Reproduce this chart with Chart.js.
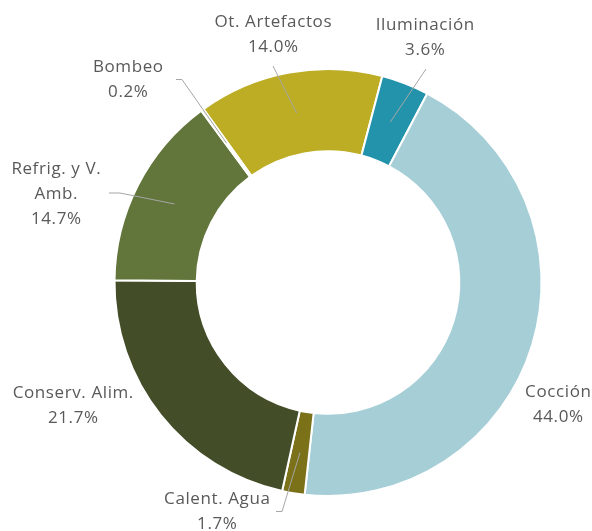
<!DOCTYPE html>
<html>
<head>
<meta charset="utf-8">
<script src="https://cdn.jsdelivr.net/npm/chart.js@4"></script>
<style>
  html, body { margin: 0; padding: 0; background: #fff; }
  #wrap { width: 592px; height: 531px; }
</style>
</head>
<body>
<div id="wrap"><canvas id="chart" width="592" height="531"></canvas></div>
<script>
// Categories and shares (%) in drawing order, clockwise
const categories = ["Ot. Artefactos", "Iluminación", "Cocción", "Calent. Agua", "Conserv. Alim.", "Refrig. y V. Amb.", "Bombeo"];
const shares = [14.0, 3.6, 44.0, 1.7, 21.7, 14.7, 0.2];

// Slice colours
const sliceColors = ["#bdad24", "#2393ab", "#a6ced7", "#7b7119", "#434e29", "#62753a", "#e4e2cc"];

// How each label breaks into lines
const labelLines = [
  ["Ot. Artefactos"], ["Iluminación"], ["Cocción"], ["Calent. Agua"],
  ["Conserv. Alim."], ["Refrig. y V.", "Amb."], ["Bombeo"]
];

// Label placement: centre x, first line y, leader start (null = no leader), elbow length
const labelPos = [
  { x: 273, y: 22, lead: [273, 66], elbow: 0 },
  { x: 425, y: 25, lead: [426, 69], elbow: 0 },
  { x: 558, y: 392, lead: null },
  { x: 217, y: 499, lead: [276, 511.5], elbow: 6 },
  { x: 73, y: 393, lead: null },
  { x: 56, y: 169, lead: [109, 193], elbow: 11 },
  { x: 128, y: 67, lead: [176, 79.5], elbow: 6 }
];

const labelPlugin = {
  id: "sliceLabels",
  afterDraw(chart) {
    const ctx = chart.ctx;
    const meta = chart.getDatasetMeta(0);
    ctx.save();
    meta.data.forEach((arc, i) => {
      const p = labelPos[i];
      const mid = (arc.startAngle + arc.endAngle) / 2;
      const r = (arc.innerRadius + arc.outerRadius) / 2;
      const ex = arc.x + Math.cos(mid) * r;
      const ey = arc.y + Math.sin(mid) * r;
      if (p.lead) {
        ctx.strokeStyle = "#a6a6a6";
        ctx.lineWidth = 1;
        ctx.beginPath();
        ctx.moveTo(p.lead[0], p.lead[1]);
        if (p.elbow) ctx.lineTo(p.lead[0] + p.elbow, p.lead[1]);
        ctx.lineTo(ex, ey);
        ctx.stroke();
      }
      ctx.fillStyle = "#595959";
      ctx.font = "17px 'Open Sans', Lato, sans-serif";
      ctx.letterSpacing = "0.6px";
      ctx.textAlign = "center";
      ctx.textBaseline = "middle";
      const lines = labelLines[i].concat([shares[i].toFixed(1) + "%"]);
      lines.forEach((t, k) => ctx.fillText(t, p.x + 0.3, p.y + k * 25));
    });
    ctx.restore();
  }
};

new Chart(document.getElementById("chart"), {
  type: "doughnut",
  data: {
    labels: categories,
    datasets: [{
      data: shares,
      backgroundColor: sliceColors,
      borderColor: "#ffffff",
      borderWidth: 2
    }]
  },
  plugins: [labelPlugin],
  options: {
    responsive: false,
    animation: false,
    rotation: -35.7,
    cutout: "61.5%",
    layout: { padding: { left: 113, right: 49, top: 68, bottom: 34 } },
    plugins: {
      legend: { display: false },
      tooltip: { enabled: false }
    }
  }
});
</script>
</body>
</html>
